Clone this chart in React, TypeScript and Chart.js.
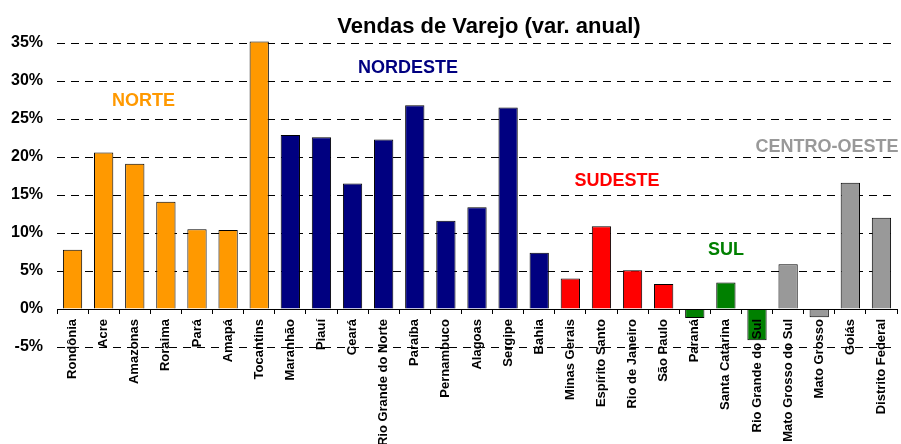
import React, { useEffect, useRef } from "react";
import { Chart, registerables } from "chart.js";

Chart.register(...registerables);

const titleText = "Vendas de Varejo (var. anual)";

const categories = [
  "Rondônia", "Acre", "Amazonas", "Roraima", "Pará", "Amapá", "Tocantins",
  "Maranhão", "Piauí", "Ceará", "Rio Grande do Norte", "Paraíba", "Pernambuco", "Alagoas", "Sergipe", "Bahia",
  "Minas Gerais", "Espírito Santo", "Rio de Janeiro", "São Paulo",
  "Paraná", "Santa Catarina", "Rio Grande do Sul",
  "Mato Grosso do Sul", "Mato Grosso", "Goiás", "Distrito Federal",
];

const values = [
  7.8, 20.6, 19.1, 14.1, 10.5, 10.4, 35.2,
  22.9, 22.6, 16.5, 22.3, 26.8, 11.6, 13.4, 26.5, 7.4,
  4.0, 10.9, 5.1, 3.3,
  -1.2, 3.5, -4.1,
  5.9, -1.1, 16.6, 12.0,
];

const regionOf = [
  0, 0, 0, 0, 0, 0, 0,
  1, 1, 1, 1, 1, 1, 1, 1, 1,
  2, 2, 2, 2,
  3, 3, 3,
  4, 4, 4, 4,
];

const regionNames = ["NORTE", "NORDESTE", "SUDESTE", "SUL", "CENTRO-OESTE"];
const regionColors = ["#FF9900", "#000080", "#FF0000", "#008000", "#999999"];

// label anchors: [category position, value at baseline]
const regionLabelCategoryPos = [2.28, 10.78, 17.5, 21.0, 24.25];
const regionLabelValue = [26.7, 31.1, 16.2, 7.1, 20.7];

const yMin = -5;
const yMax = 35;
const yStep = 5;

const FONT = '"Liberation Sans", Arial, Helvetica, sans-serif';

export default function App() {
  const canvasRef = useRef<HTMLCanvasElement | null>(null);

  useEffect(() => {
    document.body.style.margin = "0";
    const canvas = canvasRef.current;
    if (!canvas) return;

    const annotationPlugin = {
      id: "annotations",
      afterDraw(chart: any) {
        const ctx = chart.ctx;
        const xs = chart.scales.x;
        const ys = chart.scales.y;
        ctx.save();
        // title
        ctx.fillStyle = "#000";
        ctx.font = `bold 22px ${FONT}`;
        ctx.textAlign = "center";
        ctx.textBaseline = "alphabetic";
        ctx.fillText(titleText, 489, 33);
        // region labels
        const x0 = xs.getPixelForValue(0);
        const step = xs.getPixelForValue(1) - x0;
        ctx.font = `bold 18px ${FONT}`;
        regionNames.forEach((name, i) => {
          ctx.fillStyle = regionColors[i];
          const x = x0 + step * regionLabelCategoryPos[i];
          const y = ys.getPixelForValue(regionLabelValue[i]);
          ctx.fillText(name, x, y);
        });
        ctx.restore();
      },
    };

    const chart = new Chart(canvas, {
      type: "bar",
      data: {
        labels: categories,
        datasets: [
          {
            data: values,
            backgroundColor: regionOf.map((r) => regionColors[r]),
            borderColor: "#000",
            borderWidth: 1,
            barPercentage: 0.62,
            categoryPercentage: 1,
            clip: false as any,
          },
        ],
      },
      options: {
        responsive: false,
        animation: false,
        devicePixelRatio: 1,
        layout: { padding: { left: 0, right: 4, top: 43, bottom: 97 } },
        plugins: {
          legend: { display: false },
          tooltip: { enabled: false },
          title: { display: false },
        },
        scales: {
          x: {
            position: { y: 0 } as any,
            afterFit: (scale: any) => {
              scale.height = 0;
              scale.paddingLeft = 0;
              scale.paddingRight = 0;
            },
            grid: {
              drawOnChartArea: false,
              drawTicks: true,
              tickLength: 4,
              color: "#000",
              lineWidth: 1,
              z: 1,
            } as any,
            border: { display: true, color: "#000", width: 1, z: 1 } as any,
            ticks: {
              autoSkip: false,
              maxRotation: 90,
              minRotation: 90,
              padding: 6,
              color: "#000",
              z: 1,
              font: { family: FONT, size: 13, weight: "bold" },
            } as any,
          },
          y: {
            min: yMin,
            max: yMax,
            afterFit: (scale: any) => {
              scale.width = 57;
            },
            grid: {
              color: "#000",
              lineWidth: 1,
              drawTicks: false,
            },
            border: { display: false, dash: [8, 6] },
            ticks: {
              stepSize: yStep,
              padding: 14,
              color: "#000",
              font: { family: FONT, size: 16, weight: "bold" },
              callback: (v: any) => `${v}%`,
            },
          },
        },
      },
      plugins: [annotationPlugin],
    });

    return () => chart.destroy();
  }, []);

  return (
    <div style={{ width: 901, height: 444 }}>
      <canvas ref={canvasRef} width={901} height={444} style={{ display: "block" }} />
    </div>
  );
}
